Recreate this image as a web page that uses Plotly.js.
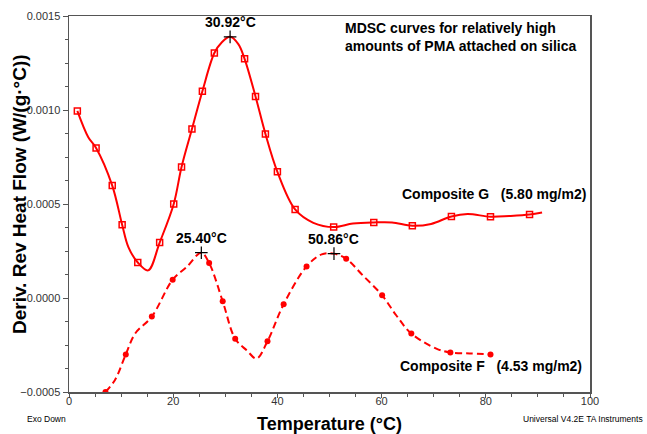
<!DOCTYPE html>
<html><head><meta charset="utf-8">
<script src="https://cdn.plot.ly/plotly-3.0.1.min.js"></script>
<style>html,body{margin:0;padding:0;background:#fff}#chart{width:647px;height:434px}</style>
</head><body><div id="chart"></div>
<script>
// Composite G (5.80 mg/m2): marked points
const gMarkX = [1.6, 5.2, 8.3, 10.2, 13.2, 17.4, 20.1, 21.6, 23.6, 25.6, 27.9, 33.7, 35.8, 37.7, 40.0, 43.4, 50.8, 58.5, 65.9, 73.4, 80.9, 88.4];
const gMarkY = [0.000995, 0.000798, 0.000598, 0.00039, 0.000189, 0.000295, 0.0005, 0.000697, 0.000899, 0.0011, 0.001303, 0.001272, 0.001072, 0.000873, 0.000671, 0.000471, 0.000377, 0.000402, 0.000384, 0.000434, 0.000432, 0.000444];
// Composite G: additional curve points between markers
const gExtraX = [3.7, 11.4, 15.2, 29.3, 30.92, 32.5, 46.9, 54.5, 62.0, 69.5, 76.5, 84.5, 90.8];
const gExtraY = [0.000855, 0.000271, 0.000147, 0.001359, 0.001389, 0.00135, 0.0004, 0.000396, 0.000402, 0.000394, 0.000447, 0.000436, 0.000455];

// Composite F (4.53 mg/m2): marked points
const fMarkX = [7.0, 10.9, 15.9, 19.9, 26.9, 29.5, 31.9, 38.1, 41.2, 45.6, 53.2, 60.1, 65.7, 73.2, 80.9];
const fMarkY = [-0.0005, -0.0003, -0.0000988, 0.0000977, 0.000186, -0.0000175, -0.000217, -0.00023, -0.0000334, 0.000168, 0.000209, 0.0000143, -0.000189, -0.00029, -0.0003];
// Composite F: additional curve points
const fExtraX = [8.8, 12.7, 22.6, 25.4, 34.1, 36.0, 48.5, 50.86, 56.4, 62.8, 70.5, 76.9];
const fExtraY = [-0.000437, -0.000189, 0.000165, 0.000241, -0.000278, -0.000322, 0.000232, 0.000236, 0.00012, -0.0000918, -0.000269, -0.000295];

// Peak marks
const peakX = [30.92, 25.40, 50.86];
const peakY = [0.001389, 0.000241, 0.000236];
const peakLabels = ["30.92°C", "25.40°C", "50.86°C"];

function merge(ax, ay, bx, by) {
  const pts = ax.map((x, i) => [x, ay[i]]).concat(bx.map((x, i) => [x, by[i]]));
  pts.sort((a, b) => a[0] - b[0]);
  return [pts.map(p => p[0]), pts.map(p => p[1])];
}
const [gX, gY] = merge(gMarkX, gMarkY, gExtraX, gExtraY);
const [fX, fY] = merge(fMarkX, fMarkY, fExtraX, fExtraY);

const RED = '#ff0000';
const FONT = 'Arial, "Liberation Sans", sans-serif';

const traces = [
  {x: gX, y: gY, mode: 'lines', line: {color: RED, width: 2, shape: 'spline', smoothing: 1}, hoverinfo: 'skip'},
  {x: gMarkX, y: gMarkY, mode: 'markers', marker: {symbol: 'square-open', size: 6, color: RED, line: {color: RED, width: 1.5}}},
  {x: fX, y: fY, mode: 'lines', line: {color: RED, width: 2, dash: '7px,4px', shape: 'spline', smoothing: 1}, hoverinfo: 'skip'},
  {x: fMarkX, y: fMarkY, mode: 'markers', marker: {symbol: 'circle', size: 6, color: RED}},
  {x: peakX, y: peakY, mode: 'markers', marker: {symbol: 'cross-thin', size: 9, line: {color: '#000', width: 1.2}}}
];

const annotations = peakLabels.map((t, i) => ({
  x: peakX[i], y: peakY[i], xref: 'x', yref: 'y', text: '<b>' + t + '</b>',
  showarrow: false, yanchor: 'bottom', yshift: 5, font: {family: FONT, size: 14, color: '#000'}
}));
const extra = [
  {text: '<b>MDSC curves for relatively high<br>amounts of PMA attached on silica</b>', x: 343, y: 37, xa: 'left', size: 14},
  {text: '<b>Composite G\u00a0\u00a0\u00a0(5.80 mg/m2)</b>', x: 400, y: 194, xa: 'left', size: 14},
  {text: '<b>Composite F\u00a0\u00a0\u00a0(4.53 mg/m2)</b>', x: 398, y: 366, xa: 'left', size: 14},
  {text: 'Exo Down', x: 25, y: 419, xa: 'left', size: 8.5},
  {text: 'Universal V4.2E TA Instruments', x: 645, y: 419, xa: 'right', size: 8.5},
  {text: '<b>Deriv. Rev Heat Flow (W/(g·°C))</b>', x: 19, y: 194, xa: 'center', size: 19, angle: -90}
];
extra.forEach(a => annotations.push({
  text: a.text, x: (a.x - 69) / (590 - 69), y: (392.3 - a.y) / (392.3 - 15.7),
  xref: 'paper', yref: 'paper', xanchor: a.xa, yanchor: 'middle', align: 'left',
  textangle: a.angle || 0,
  showarrow: false, font: {family: FONT, size: a.size, color: '#000'}
}));

const layout = {
  width: 647, height: 434,
  margin: {l: 69, r: 57, t: 16, b: 42, pad: 0},
  paper_bgcolor: '#fff', plot_bgcolor: '#fff',
  showlegend: false,
  font: {family: FONT, color: '#222'},
  xaxis: {
    range: [0, 100], dtick: 20, tick0: 0, showgrid: false, zeroline: false,
    showline: true, linecolor: '#555', linewidth: 1.5, mirror: true,
    ticks: 'outside', ticklen: 4, tickwidth: 1, tickcolor: '#555',
    minor: {dtick: 5, ticks: 'outside', ticklen: 3, tickcolor: '#555', showgrid: false},
    tickfont: {size: 11, color: '#333'}, ticklabelstandoff: -6,
    title: {text: '<b>Temperature (°C)</b>', font: {size: 18, color: '#000'}, standoff: 12}
  },
  yaxis: {
    range: [-0.0005, 0.0015], dtick: 0.0005, tick0: 0, tickformat: '.4f', showgrid: false, zeroline: false,
    showline: true, linecolor: '#555', linewidth: 1.5, mirror: true,
    ticks: 'outside', ticklen: 5, tickwidth: 1, tickcolor: '#555',
    minor: {dtick: 0.000125, ticks: 'outside', ticklen: 3, tickcolor: '#555', showgrid: false},
    tickfont: {size: 11, color: '#333'}
  },
  annotations: annotations
};

Plotly.newPlot('chart', traces, layout, {displayModeBar: false, staticPlot: true});
</script>
</body></html>
